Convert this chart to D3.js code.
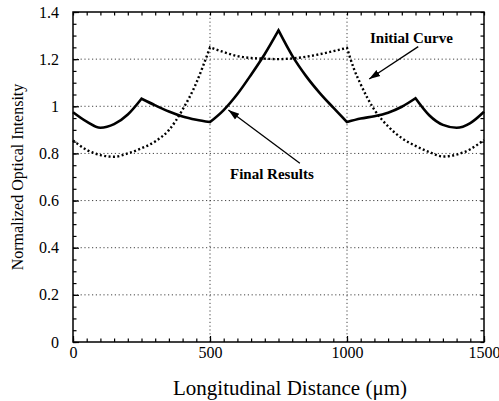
<!DOCTYPE html>
<html>
<head>
<meta charset="utf-8">
<script src="https://cdn.jsdelivr.net/npm/d3@7"></script>
<style>
  body { margin: 0; background: #fff; }
  svg { display: block; font-family: "Liberation Serif", "Times New Roman", serif; }
</style>
</head>
<body>
<div id="chart-area"></div>
<script>
// chart values
var finalX = [0, 50, 100, 150, 200, 250, 300, 350, 400, 450, 500, 550, 600, 650, 700, 750,
              800, 850, 900, 950, 1000, 1050, 1100, 1150, 1200, 1250, 1300, 1350, 1400, 1450, 1500];
var finalY = [0.975, 0.935, 0.909, 0.924, 0.965, 1.032, 1.004, 0.978, 0.957, 0.943, 0.933, 0.984, 1.052, 1.134, 1.222, 1.322,
              1.215, 1.129, 1.057, 0.994, 0.933, 0.948, 0.958, 0.973, 0.998, 1.034, 0.962, 0.921, 0.909, 0.929, 0.977];
var finalKinks = [250, 500, 750, 1000, 1250];

var initialX = [0, 50, 100, 150, 200, 250, 300, 350, 400, 450, 475, 500, 550, 600, 650, 700, 750,
                800, 850, 900, 950, 1000, 1025, 1050, 1100, 1150, 1200, 1250, 1300, 1350, 1400, 1450, 1500];
var initialY = [0.855, 0.815, 0.793, 0.786, 0.800, 0.822, 0.851, 0.899, 0.986, 1.099, 1.172, 1.250, 1.230, 1.213, 1.205, 1.202, 1.200,
                1.203, 1.210, 1.221, 1.234, 1.248, 1.160, 1.093, 0.985, 0.915, 0.865, 0.832, 0.806, 0.787, 0.795, 0.818, 0.857];
var initialKinks = [500, 1000];

var xTicks = [0, 500, 1000, 1500];
var xTickLabels = ["0", "500", "1000", "1500"];
var yTicks = [0, 0.2, 0.4, 0.6, 0.8, 1, 1.2, 1.4];
var yTickLabels = ["0", "0.2", "0.4", "0.6", "0.8", "1", "1.2", "1.4"];

var notes = [
  { text: "Initial Curve", x: 1084, y: 1.267, fromX: 1260, fromY: 1.253, toX: 1081, toY: 1.116 },
  { text: "Final Results", x: 573, y: 0.69, fromX: 828, fromY: 0.758, toX: 567, toY: 0.984 }
];

var width = 499,
    height = 401;

var svg = d3.select("#chart-area")
  .append("svg")
  .attr("width", width)
  .attr("height", height);

var x = d3.scaleLinear().domain([0, 1500]).range([73, 484]);
var y = d3.scaleLinear().domain([0, 1.4]).range([342, 12]);

// gridlines
svg.append("g").selectAll("line")
  .data(yTicks.slice(1, -1))
  .enter().append("line")
  .attr("x1", x(0)).attr("x2", x(1500))
  .attr("y1", function(d) { return y(d); })
  .attr("y2", function(d) { return y(d); })
  .attr("stroke", "#444")
  .attr("stroke-width", 1)
  .attr("stroke-dasharray", "1.2,2.6");

svg.append("g").selectAll("line")
  .data(xTicks.slice(1, -1))
  .enter().append("line")
  .attr("y1", y(0)).attr("y2", y(1.4))
  .attr("x1", function(d) { return x(d); })
  .attr("x2", function(d) { return x(d); })
  .attr("stroke", "#444")
  .attr("stroke-width", 1)
  .attr("stroke-dasharray", "1.2,2.6");

// axes: major ticks with labels, minor ticks, all pointing inward
var xMinor = d3.range(0, 1501, 50);
var yMinor = d3.range(0, 1.401, 0.05);

function styleAxis(g) {
  g.select(".domain").remove();
  g.selectAll(".tick line").attr("stroke", "#000").attr("stroke-width", 1.2);
  g.selectAll("text").attr("font-family", "Liberation Serif").attr("font-size", 16).attr("fill", "#000");
}

svg.append("g").attr("transform", "translate(0," + y(0) + ")")
  .call(d3.axisBottom(x).tickValues(xTicks).tickSizeInner(-6).tickSizeOuter(0).tickPadding(4.5)
    .tickFormat(function(d, i) { return xTickLabels[i]; }))
  .call(styleAxis);
svg.append("g").attr("transform", "translate(0," + y(0) + ")")
  .call(d3.axisBottom(x).tickValues(xMinor).tickSize(-3.5).tickFormat(""))
  .call(styleAxis);
svg.append("g").attr("transform", "translate(0," + y(1.4) + ")")
  .call(d3.axisTop(x).tickValues(xMinor).tickSize(-3.5).tickFormat(""))
  .call(styleAxis);

svg.append("g").attr("transform", "translate(" + x(0) + ",0)")
  .call(d3.axisLeft(y).tickValues(yTicks).tickSizeInner(-6).tickSizeOuter(0).tickPadding(14)
    .tickFormat(function(d, i) { return yTickLabels[i]; }))
  .call(styleAxis);
svg.append("g").attr("transform", "translate(" + x(0) + ",0)")
  .call(d3.axisLeft(y).tickValues(yMinor).tickSize(-3.5).tickFormat(""))
  .call(styleAxis);
svg.append("g").attr("transform", "translate(" + x(1500) + ",0)")
  .call(d3.axisRight(y).tickValues(yMinor).tickSize(-3.5).tickFormat(""))
  .call(styleAxis);

// frame
svg.append("rect")
  .attr("x", x(0)).attr("y", y(1.4))
  .attr("width", x(1500) - x(0)).attr("height", y(0) - y(1.4))
  .attr("fill", "none")
  .attr("stroke", "#000")
  .attr("stroke-width", 1.5);

// curves, smooth between kinks
var line = d3.line()
  .x(function(d) { return x(d[0]); })
  .y(function(d) { return y(d[1]); })
  .curve(d3.curveMonotoneX);

function piecewisePath(xs, ys, kinks) {
  var bounds = [xs[0]].concat(kinks, [xs[xs.length - 1]]);
  var path = "";
  for (var k = 0; k < bounds.length - 1; k++) {
    var seg = [];
    for (var i = 0; i < xs.length; i++) {
      if (xs[i] >= bounds[k] && xs[i] <= bounds[k + 1]) seg.push([xs[i], ys[i]]);
    }
    var p = line(seg);
    path += k === 0 ? p : p.replace(/^M[^LC]*/, "");
  }
  return path;
}

svg.append("path")
  .attr("d", piecewisePath(initialX, initialY, initialKinks))
  .attr("fill", "none")
  .attr("stroke", "#000")
  .attr("stroke-width", 2.4)
  .attr("stroke-dasharray", "2,2.4");

svg.append("path")
  .attr("d", piecewisePath(finalX, finalY, finalKinks))
  .attr("fill", "none")
  .attr("stroke", "#000")
  .attr("stroke-width", 2.6)
  .attr("stroke-linejoin", "miter");

// annotations
svg.append("defs").append("marker")
  .attr("id", "arrow")
  .attr("markerUnits", "userSpaceOnUse")
  .attr("markerWidth", 12).attr("markerHeight", 10)
  .attr("viewBox", "0 -5 12 10")
  .attr("refX", 11).attr("refY", 0)
  .attr("orient", "auto")
  .append("path")
  .attr("d", "M0,-3.6L11,0L0,3.6Z")
  .attr("fill", "#000");

svg.append("g").selectAll("line")
  .data(notes)
  .enter().append("line")
  .attr("x1", function(d) { return x(d.fromX); })
  .attr("y1", function(d) { return y(d.fromY); })
  .attr("x2", function(d) { return x(d.toX); })
  .attr("y2", function(d) { return y(d.toY); })
  .attr("stroke", "#000")
  .attr("stroke-width", 1.3)
  .attr("marker-end", "url(#arrow)");

svg.append("g").selectAll("text")
  .data(notes)
  .enter().append("text")
  .attr("x", function(d) { return x(d.x); })
  .attr("y", function(d) { return y(d.y); })
  .attr("font-size", 15)
  .attr("font-weight", "bold")
  .text(function(d) { return d.text; });

// axis titles
svg.append("text")
  .attr("x", 290).attr("y", 395)
  .attr("text-anchor", "middle")
  .attr("font-size", 21)
  .text("Longitudinal Distance (\u03bcm)");

svg.append("text")
  .attr("transform", "translate(23,177) rotate(-90)")
  .attr("text-anchor", "middle")
  .attr("font-size", 16)
  .text("Normalized Optical Intensity");
</script>
</body>
</html>
